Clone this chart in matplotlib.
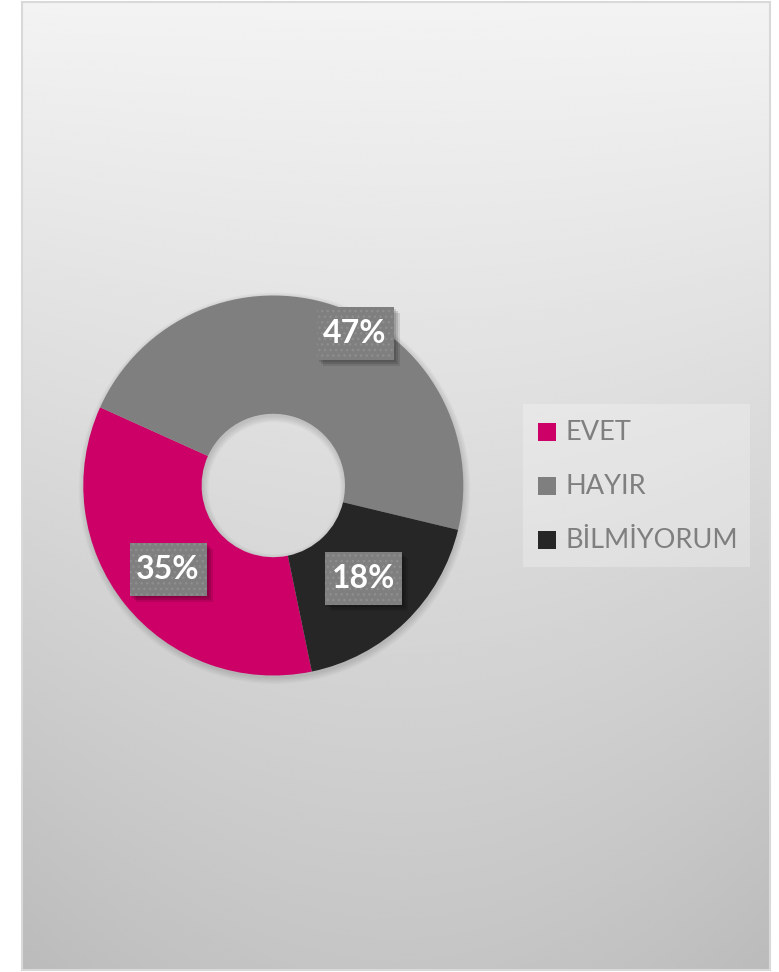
import numpy as np
import matplotlib.pyplot as plt
from matplotlib.patches import Rectangle, Wedge

# data
categories = ['EVET', 'HAYIR', 'BİLMİYORUM']
shares = [35, 47, 18]
value_labels = ['35%', '47%', '18%']
colors = ['#CC0066', '#7F7F7F', '#262626']

W, H = 779, 972
fig = plt.figure(figsize=(W / 100, H / 100), dpi=100)
fig.patch.set_facecolor('white')
fam = ['Lato', 'DejaVu Sans']

# gradient panel behind the chart
bg = fig.add_axes([22 / W, 2 / H, 748 / W, 968 / H])
yy, xx = np.mgrid[0:1:400j, 0:1:300j]
shade = 243 - 46 * yy - 10 * yy * (2 * (xx - 0.5)) ** 2
bg.imshow(shade / 255, cmap='gray', vmin=0, vmax=1, aspect='auto',
          extent=[0, 1, 0, 1], origin='upper', interpolation='bicubic')
bg.set_xticks([])
bg.set_yticks([])
for s in bg.spines.values():
    s.set_color('#d9d9d9')
    s.set_linewidth(1.5)

# donut axes, 190 px radius
R = 190.0
cx, cy = 273.3, H - 485.5
half = 1.25 * R
ax = fig.add_axes([(cx - half) / W, (cy - half) / H, 2 * half / W, 2 * half / H])
ax.patch.set_alpha(0)
inner = 71.7 / R

# soft shadow under the ring
for k in range(6):
    e = 0.006 * k
    ax.add_patch(Wedge((0.006, -0.014), 1 + e, 0, 360, width=1 - inner + 2 * e,
                       facecolor='black', alpha=0.025, edgecolor='none', zorder=0))

start = -78.3
wedges, _ = ax.pie(shares, colors=colors, startangle=start, counterclock=False,
                   radius=1, wedgeprops=dict(width=1 - inner, edgecolor='none', zorder=2))

ax.set_xlim(-1.25, 1.25)
ax.set_ylim(-1.25, 1.25)
ax.set_aspect('equal')
ax.axis('off')

# data labels in grey dotted boxes
label_r = [0.71, 0.91, 0.685]
label_shift = [0, -9.3, 0]
bw, bh = 77 / R, 53 / R
cum = 0
for i, v in enumerate(shares):
    mid = start - 360 * (cum + v / 2) / 100 + label_shift[i]
    cum += v
    lx = label_r[i] * np.cos(np.radians(mid))
    ly = label_r[i] * np.sin(np.radians(mid))
    for k, a in enumerate([0.12, 0.12, 0.1]):
        d = (2 + 2 * k) / R
        ax.add_patch(Rectangle((lx - bw / 2 + d, ly - bh / 2 - d), bw, bh,
                               facecolor='black', alpha=a, edgecolor='none', zorder=3))
    ax.add_patch(Rectangle((lx - bw / 2, ly - bh / 2), bw, bh,
                           facecolor='#7F7F7F', edgecolor='none', zorder=4))
    ax.add_patch(Rectangle((lx - bw / 2, ly - bh / 2), bw, bh, facecolor='none',
                           edgecolor='#8E8E8E', hatch='...', linewidth=0, zorder=5))
    ax.text(lx, ly, value_labels[i], ha='center', va='center', color='white',
            fontsize=23, fontweight='bold', family=fam, zorder=6)

# legend
tr = fig.transFigure
fig.patches.append(Rectangle((523 / W, (H - 567) / H), 227 / W, 163 / H, transform=tr,
                             facecolor='white', alpha=0.25, edgecolor='none'))
rows_y = [432, 486, 540]
for name, c, y in zip(categories, colors, rows_y):
    fig.patches.append(Rectangle((538 / W, (H - y - 9) / H), 18 / W, 18 / H, transform=tr,
                                 facecolor=c, edgecolor='none'))
    fig.text(565 / W, (H - y) / H, name, ha='left', va='center', color='#7F7F7F',
             fontsize=19.5, family=fam)

fig.savefig('out.png', dpi=100)
